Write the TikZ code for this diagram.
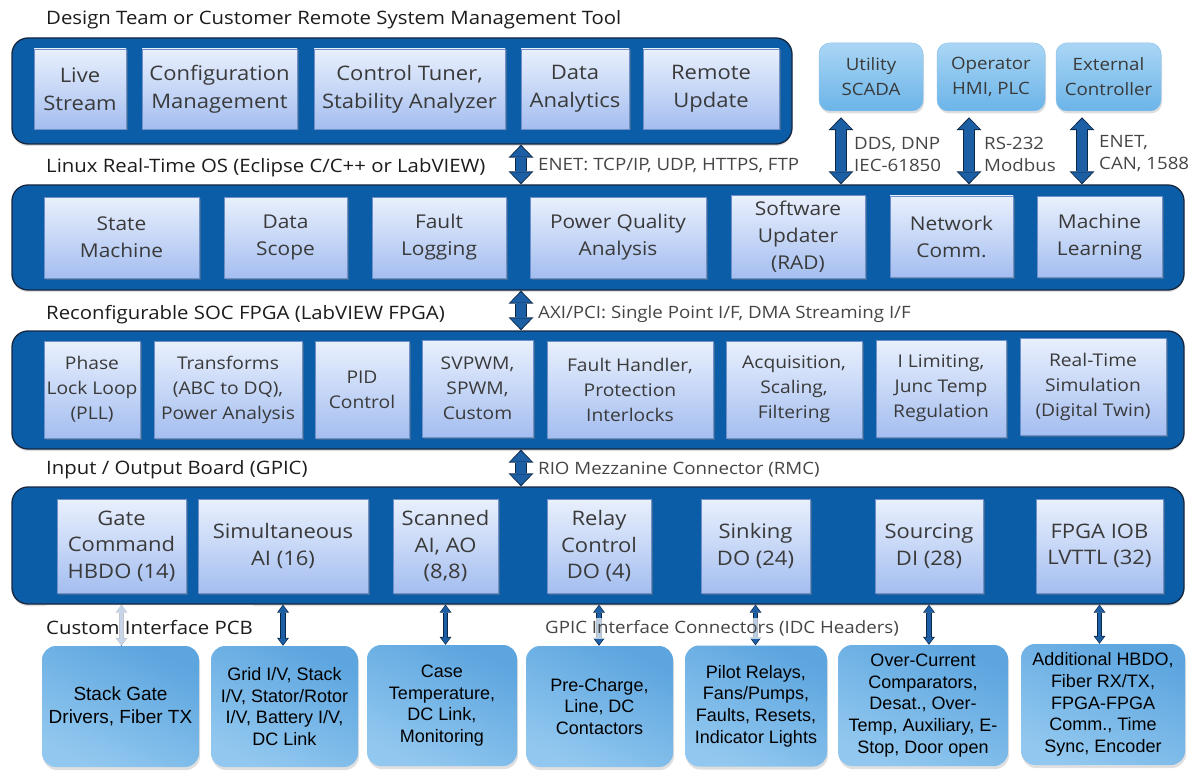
\documentclass[tikz,border=0pt]{standalone}
\usepackage{fontspec}
\setmainfont{Open Sans}[FakeStretch=1.1]
\newfontfamily\narrowsans{Liberation Sans}
\usetikzlibrary{arrows.meta,shadows,calc}

\definecolor{panelblue}{HTML}{0C5DA7}
\definecolor{paneledge}{HTML}{15273F}
\definecolor{ibtop}{HTML}{E9F0FD}
\definecolor{ibbot}{HTML}{A4BEF0}
\definecolor{ibedge}{HTML}{6F8FC8}
\definecolor{txtgray}{HTML}{3A3A3A}
\definecolor{titlegray}{HTML}{1C1C1C}
\definecolor{lblgray}{HTML}{454545}
\definecolor{arrfill}{HTML}{1C5FA5}
\definecolor{arredge}{HTML}{0B2747}
\definecolor{exttop}{HTML}{AAD6F5}
\definecolor{extbot}{HTML}{6BB4E8}
\definecolor{extedge}{HTML}{8CC2EA}
\definecolor{pcbtop}{HTML}{5CA5DF}
\definecolor{pcbbot}{HTML}{92C8EF}

\newcommand\BlkArrow[2]{\draw[bigout] #1 -- #2; \draw[bigin] #1 -- #2;}
\newcommand\SmlArrow[2]{\draw[smlout] #1 -- #2; \draw[smlin] #1 -- #2;}

\tikzset{
  sz/.style 2 args={minimum width=#1pt, minimum height=#2pt},
  panel/.style={draw=paneledge, line width=1.3pt, fill=panelblue, rounded corners=16pt,
    inner sep=0pt, drop shadow={shadow xshift=0pt, shadow yshift=-2pt, opacity=0.25}},
  ib/.style={draw=ibedge, line width=0.5pt, top color=ibtop, bottom color=ibbot,
    text=txtgray, align=center, inner sep=0pt,
    drop shadow={shadow xshift=1.5pt, shadow yshift=-1.5pt, opacity=0.4}},
  ext/.style={draw=extedge, line width=0.5pt, rounded corners=11pt, top color=exttop,
    bottom color=extbot, text=txtgray, align=center, inner sep=0pt,
    drop shadow={shadow xshift=1pt, shadow yshift=-2.5pt, opacity=0.25}},
  pcb/.style={draw=none, rounded corners=14pt, top color=pcbtop, bottom color=pcbbot,
    shading angle=-25, text=black, align=center, inner sep=0pt,
    drop shadow={shadow xshift=1pt, shadow yshift=-3pt, opacity=0.25}},
  f1/.style={font=\fontsize{20}{28}\selectfont},
  f2/.style={font=\fontsize{19}{27}\selectfont},
  f3/.style={font=\fontsize{17.5}{25}\selectfont},
  f4/.style={font=\fontsize{20}{26.5}\selectfont},
  fe/.style={font=\fontsize{17}{25}\selectfont},
  fb/.style={font=\narrowsans\fontsize{18}{21.7}\selectfont},
  fbl/.style={font=\narrowsans\fontsize{19}{22.5}\selectfont},
  ttl/.style={font=\fontsize{18.5}{22}\selectfont, text=titlegray, anchor=base west, inner sep=0pt},
  lbl/.style={font=\fontsize{17}{22}\selectfont, text=lblgray, anchor=base west, inner sep=0pt},
  lbl2/.style={font=\fontsize{17}{22}\selectfont, text=lblgray, anchor=west, inner sep=0pt, align=left},
  bigout/.style={line width=12.5pt, draw=arredge,
    {Triangle[length=13pt,width=25pt,line width=0pt]}-{Triangle[length=13pt,width=25pt,line width=0pt]}},
  bigin/.style={line width=10pt, draw=arrfill, shorten <=1.5pt, shorten >=1.5pt,
    {Triangle[length=10.5pt,width=21pt,line width=0pt]}-{Triangle[length=10.5pt,width=21pt,line width=0pt]}},
  smlout/.style={line width=5.5pt, draw=arredge,
    {Triangle[length=8pt,width=12pt,line width=0pt]}-{Triangle[length=8pt,width=12pt,line width=0pt]}},
  smlin/.style={line width=3.6pt, draw=arrfill, shorten <=1.1pt, shorten >=1.1pt,
    {Triangle[length=6.2pt,width=9.2pt,line width=0pt]}-{Triangle[length=6.2pt,width=9.2pt,line width=0pt]}},
}

\begin{document}
\begin{tikzpicture}[x=1pt,y=-1pt]
\useasboundingbox (0,0) rectangle (1200,773);

% ---------- titles ----------
\node[ttl] (t1) at (46,25) {Design Team or Customer Remote System Management Tool};
\node[ttl] (t2) at (46,172.5) {Linux Real-Time OS (Eclipse C/C++ or LabVIEW)};
\node[ttl] (t3) at (46,319) {Reconfigurable SOC FPGA (LabVIEW FPGA)};
\node[ttl] (t4) at (46,474) {Input / Output Board (GPIC)};

% ---------- panels ----------
\node[panel, sz={780}{106}] (p1) at (402,91) {};
\node[panel, sz={1172}{105}] (p2) at (598,237.5) {};
\node[panel, sz={1172}{118}] (p3) at (598,390) {};
\node[panel, sz={1172}{117}] (p4) at (598,545.5) {};

% ---------- panel 1 ----------
\node[ib, f1, sz={92}{80}]  (live)   at (80,89)    {Live\\Stream};
\node[ib, f1, sz={155}{80}] (config) at (219.5,89) {Configuration\\Management};
\node[ib, f1, sz={191}{80}] (tuner)  at (409.5,89) {Control Tuner,\\Stability Analyzer};
\node[ib, f1, sz={108}{80}] (data)   at (575,89)   {Data\\Analytics};
\node[ib, f1, sz={136}{80}] (remote) at (711,89)   {Remote\\Update};

% ---------- external boxes ----------
\node[ext, fe, sz={104}{68}] (u)  at (871,77)    {Utility\\SCADA};
\node[ext, fe, sz={108}{68}] (op) at (991,77)    {Operator\\HMI, PLC};
\node[ext, fe, sz={105}{68}] (ex) at (1108.5,77) {External\\Controller};

% ---------- panel 2 ----------
\node[ib, f2, sz={155}{81}] (state)   at (121.5,237.5) {State\\Machine};
\node[ib, f2, sz={123}{81}] (scope)   at (285.5,237.5) {Data\\Scope};
\node[ib, f2, sz={134}{81}] (logging) at (439,237.5)   {Fault\\Logging};
\node[ib, f2, sz={176}{81}] (pqa)     at (618,237.5)   {Power Quality\\Analysis};
\node[ib, f2, sz={134}{83}] (upd)     at (798,237)     {Software\\Updater\\(RAD)};
\node[ib, f2, sz={123}{81}] (net)     at (951.5,236.5) {Network\\Comm.};
\node[ib, f2, sz={125}{81}] (ml)      at (1099.5,237)  {Machine\\Learning};

% ---------- panel 3 ----------
\node[ib, f3, sz={96}{97}]  (pll)  at (92,389.5)   {Phase\\Lock Loop\\(PLL)};
\node[ib, f3, sz={148}{97}] (trf)  at (228,389.5)  {Transforms\\(ABC to DQ),\\Power Analysis};
\node[ib, f3, sz={94}{97}]  (pid)  at (362,389.5)  {PID\\Control};
\node[ib, f3, sz={111}{97}] (pwm)  at (477.5,388.5) {SVPWM,\\SPWM,\\Custom};
\node[ib, f3, sz={166}{97}] (flt)  at (630,389.5)  {Fault Handler,\\Protection\\Interlocks};
\node[ib, f3, sz={136}{97}] (acq)  at (794,389.5)  {Acquisition,\\Scaling,\\Filtering};
\node[ib, f3, sz={130}{97}] (ilim) at (941,388.5)  {I Limiting,\\Junc Temp\\Regulation};
\node[ib, f3, sz={146}{97}] (rts)  at (1093,386.5) {Real-Time\\Simulation\\(Digital Twin)};

% ---------- panel 4 ----------
\node[ib, f4, sz={129}{94}] (gate)  at (121.5,546)  {Gate\\Command\\HBDO (14)};
\node[ib, f4, sz={170}{94}] (simul) at (283,546)    {Simultaneous\\AI (16)};
\node[ib, f4, sz={105}{94}] (scan)  at (445.5,546)  {Scanned\\AI, AO\\(8,8)};
\node[ib, f4, sz={104}{94}] (relay) at (599,546)    {Relay\\Control\\DO (4)};
\node[ib, f4, sz={109}{94}] (sink)  at (755.5,546)  {Sinking\\DO (24)};
\node[ib, f4, sz={108}{94}] (src)   at (929,546)    {Sourcing\\DI (28)};
\node[ib, f4, sz={127}{94}] (iob)   at (1099.5,546) {FPGA IOB\\LVTTL (32)};

% ---------- big arrows ----------
\coordinate (xm) at (521,0);
\coordinate (xu) at (841,0);
\coordinate (xo) at (969,0);
\coordinate (xe) at (1082,0);
\BlkArrow{(xm |- p1.south)}{(xm |- p2.north)}
\BlkArrow{(xm |- p2.south)}{(xm |- p3.north)}
\BlkArrow{(xm |- p3.south)}{(xm |- p4.north)}
\BlkArrow{($(xu |- u.south)+(0,6)$)}{(xu |- p2.north)}
\BlkArrow{($(xo |- op.south)+(0,6)$)}{(xo |- p2.north)}
\BlkArrow{($(xe |- ex.south)+(0,6)$)}{(xe |- p2.north)}

% ---------- arrow labels ----------
\node[lbl] (l1) at (538,171) {ENET: TCP/IP, UDP, HTTPS, FTP};
\node[lbl2] (l2) at (854,154) {DDS, DNP\\IEC-61850};
\node[lbl2] (l3) at (984,154) {RS-232\\Modbus};
\node[lbl2] (l4) at (1099,154) {ENET,\\CAN, 1588};
\node[lbl] (l5) at (538,318) {AXI/PCI: Single Point I/F, DMA Streaming I/F};
\node[lbl] (l6) at (538,474) {RIO Mezzanine Connector (RMC)};

% ---------- bottom boxes ----------
\node[pcb, fbl, sz={157}{121}] (b1) at (120.5,706.5) {Stack Gate\\Drivers, Fiber TX};
\node[pcb, fb, sz={147}{121}] (b2) at (284.5,706.5) {Grid I/V, Stack\\I/V, Stator/Rotor\\I/V, Battery I/V,\\DC Link};
\node[pcb, fb, sz={150}{121}] (b3) at (442,705.5)   {Case\\Temperature,\\DC Link,\\Monitoring};
\node[pcb, fb, sz={147}{121}] (b4) at (599.5,706.5) {Pre-Charge,\\Line, DC\\Contactors};
\node[pcb, fb, sz={142}{121}] (b5) at (756,706)     {Pilot Relays,\\Fans/Pumps,\\Faults, Resets,\\Indicator Lights};
\node[pcb, fb, sz={170}{121}] (b6) at (923,705.5)   {Over-Current\\Comparators,\\Desat., Over-\\Temp, Auxiliary, E-\\Stop, Door open};
\node[pcb, fb, sz={164}{121}] (b7) at (1103,704.5)  {Additional HBDO,\\Fiber RX/TX,\\FPGA-FPGA\\Comm., Time\\Sync, Encoder};

% ---------- small arrows ----------
\SmlArrow{(gate |- p4.south)}{(gate |- b1.north)}
\SmlArrow{(simul |- p4.south)}{(simul |- b2.north)}
\SmlArrow{(scan |- p4.south)}{(scan |- b3.north)}
\SmlArrow{(relay |- p4.south)}{(relay |- b4.north)}
\SmlArrow{(sink |- p4.south)}{(sink |- b5.north)}
\SmlArrow{(src |- p4.south)}{(src |- b6.north)}
\SmlArrow{(iob |- p4.south)}{(iob |- b7.north)}

% ---------- bottom labels (translucent backing) ----------
\node[ttl, fill=white, fill opacity=0.75, text opacity=1, text height=29pt, text depth=11pt, inner ysep=0pt] (t5) at (46,634) {Custom Interface PCB};
\node[lbl, fill=white, fill opacity=0.7, text opacity=1, text height=15pt, text depth=6pt, inner ysep=0pt] (l7) at (545,633) {GPIC Interface Connectors (IDC Headers)};
\end{tikzpicture}
\end{document}
